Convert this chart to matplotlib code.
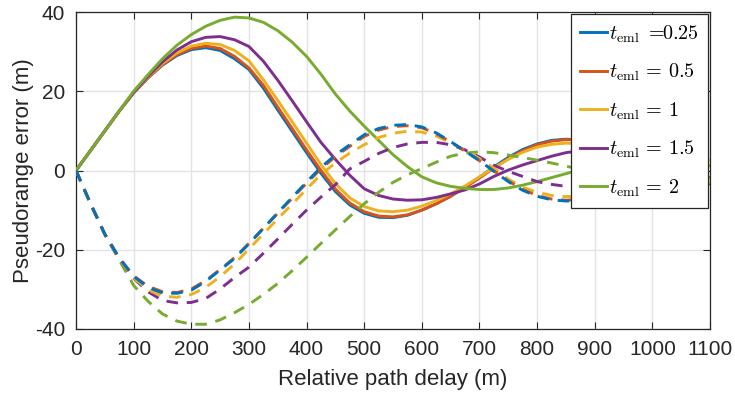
import numpy as np
import matplotlib
matplotlib.use("Agg")
import matplotlib.pyplot as plt

plt.rcParams['font.family'] = ['Liberation Sans', 'DejaVu Sans']
plt.rcParams['mathtext.fontset'] = 'cm'
plt.rcParams['axes.unicode_minus'] = False

# Relative path delay (m)
delay = list(range(0, 1101, 25))

# Positive (solid) error envelopes
pos_025 = [0, 5.0, 10.0, 15.0, 19.6, 23.4, 26.6, 29.0, 30.5, 31.0, 30.3, 28.2, 25.5, 20.8, 15.3, 9.9, 4.5, -0.7,
           -5.3, -8.7, -10.8, -11.8, -11.9, -11.3, -10.0, -8.4, -6.5, -4.2, -1.7, 0.9, 3.3, 5.3, 6.7, 7.6, 7.9, 7.7,
           7.0, 5.8, 4.3, 2.6, 0.9, -0.7, -2.0, -2.9, -3.4]
pos_05 = [0, 5.0, 10.0, 15.0, 19.6, 23.4, 26.7, 29.2, 30.8, 31.4, 30.8, 28.8, 25.9, 21.5, 16.0, 10.6, 5.2, 0.0,
          -4.7, -8.2, -10.4, -11.5, -11.7, -11.2, -10.0, -8.4, -6.5, -4.3, -1.9, 0.6, 3.0, 5.0, 6.5, 7.4, 7.8, 7.7,
          7.0, 5.9, 4.5, 2.8, 1.1, -0.5, -1.8, -2.7, -3.2]
pos_1 = [0, 5.0, 10.0, 15.0, 19.7, 23.6, 27.0, 29.7, 31.4, 32.1, 31.8, 30.3, 27.7, 22.9, 17.7, 12.3, 6.9, 1.5,
         -3.3, -6.9, -9.1, -10.2, -10.4, -10.0, -9.0, -7.6, -5.9, -3.9, -1.6, 0.7, 2.8, 4.6, 5.9, 6.6, 6.9, 6.8,
         6.3, 5.4, 4.1, 2.6, 1.0, -0.4, -1.6, -2.4, -2.9]
pos_15 = [0, 5.0, 10.0, 15.0, 19.7, 23.8, 27.4, 30.4, 32.5, 33.6, 33.8, 33.0, 31.3, 27.6, 22.8, 17.6, 12.3, 7.1,
          2.8, -1.2, -4.6, -6.3, -7.2, -7.5, -7.4, -6.8, -5.9, -4.9, -3.4, -1.5, 0.1, 1.4, 2.5, 3.6, 4.5, 5.0,
          5.2, 5.0, 4.4, 3.5, 2.4, 1.2, 0.0, -1.0, -1.8]
pos_2 = [0, 5.0, 10.0, 15.0, 20.0, 24.2, 28.2, 31.6, 34.3, 36.4, 37.9, 38.7, 38.5, 37.4, 35.3, 32.4, 28.8, 24.3,
         19.3, 15.0, 11.2, 7.6, 4.0, 1.0, -1.6, -3.1, -4.0, -4.5, -4.8, -4.8, -4.4, -3.7, -2.8, -1.8, -0.8, 0.2,
         1.1, 1.9, 2.5, 2.9, 3.0, 2.9, 2.5, 1.9, 1.2]

# Negative (dashed) error envelopes
neg_025 = [0, -8.3, -16.1, -22.1, -26.7, -29.5, -30.9, -31.0, -30.2, -28.0, -25.1, -22.2, -18.5, -14.6, -10.7, -6.8,
           -2.9, 0.8, 3.9, 6.5, 9.0, 10.6, 11.4, 11.6, 11.0, 9.5, 7.3, 4.9, 2.5, -0.2, -2.8, -5.0, -6.5, -7.4, -7.7,
           -7.5, -6.8, -5.7, -4.3, -2.8, -1.2, 0.3, 1.6, 2.6, 3.2]
neg_05 = [0, -8.3, -16.0, -22.0, -26.6, -29.2, -30.6, -30.8, -29.9, -27.8, -25.0, -22.0, -18.4, -14.6, -10.8, -7.0,
          -3.2, 0.4, 3.5, 6.1, 8.6, 10.2, 11.1, 11.3, 10.8, 9.3, 7.2, 4.9, 2.5, -0.1, -2.6, -4.8, -6.3, -7.2, -7.5,
          -7.3, -6.7, -5.6, -4.2, -2.7, -1.2, 0.3, 1.5, 2.5, 3.1]
neg_1 = [0, -8.3, -16.1, -22.3, -27.1, -30.1, -31.7, -32.0, -31.3, -29.5, -26.8, -23.6, -19.8, -16.0, -12.2, -8.5,
         -4.7, -1.0, 1.9, 4.4, 6.5, 8.3, 9.4, 9.9, 9.7, 8.7, 7.0, 5.1, 3.0, 0.6, -2.2, -4.2, -5.5, -6.3, -6.6,
         -6.5, -6.0, -5.1, -3.9, -2.6, -1.2, 0.1, 1.2, 2.1, 2.6]
neg_15 = [0, -8.3, -16.1, -22.3, -27.2, -30.6, -32.8, -33.4, -33.3, -32.3, -29.9, -27.0, -24.4, -20.9, -17.3, -13.6,
          -10.0, -6.7, -3.6, 0.4, 2.3, 4.3, 5.8, 6.7, 7.1, 7.1, 6.5, 5.2, 3.4, 1.3, -0.2, -1.5, -2.8, -3.5, -4.0,
          -4.3, -4.3, -4.0, -3.4, -2.6, -1.7, -0.7, 0.2, 1.0, 1.6]
neg_2 = [0, -8.3, -16.1, -22.6, -29.0, -33.0, -36.2, -38.0, -38.8, -38.8, -37.7, -35.9, -33.8, -31.3, -28.5, -25.3,
         -21.9, -18.4, -15.0, -11.6, -8.4, -5.5, -3.0, -1.1, 0.5, 2.1, 3.6, 4.4, 4.7, 4.5, 3.9, 3.3, 2.6, 1.9, 1.1,
         0.3, -0.5, -1.2, -1.8, -2.3, -2.6, -2.7, -2.6, -2.3, -1.9]

labels = [r'$t_{\mathrm{eml}}\ =\!\!0.25$', r'$t_{\mathrm{eml}}\,=\,0.5$', r'$t_{\mathrm{eml}}\,=\,1$',
          r'$t_{\mathrm{eml}}\,=\,1.5$', r'$t_{\mathrm{eml}}\,=\,2$']
colors = ['#0072BD', '#D95319', '#EDB120', '#7E2F8E', '#77AC30']
pos_series = [pos_025, pos_05, pos_1, pos_15, pos_2]
neg_series = [neg_025, neg_05, neg_1, neg_15, neg_2]

fig = plt.figure(figsize=(7.35, 3.95), dpi=100)
ax = fig.add_axes([76/735, 1-329/395, (710-76)/735, (329-12)/395])

handles = []
for i, (p, n, c, lab) in enumerate(zip(pos_series, neg_series, colors, labels)):
    h, = ax.plot(delay, p, color=c, lw=2.1, label=lab, zorder=3 + i,
                 solid_joinstyle='round')
    ax.plot(delay, n, color=c, lw=2.1, linestyle=(0, (4.0, 3.0)), zorder=13 - i,
            dash_joinstyle='round')
    handles.append(h)

ax.set_xlim(0, 1100)
ax.set_ylim(-40, 40)
ax.set_xticks(range(0, 1101, 100))
ax.set_yticks([-40, -20, 0, 20, 40])
ax.grid(True, color='#e3e3e3', lw=1.0, zorder=0)
ax.set_axisbelow(True)
ax.tick_params(direction='in', top=True, right=True, length=5, width=0.8,
               labelsize=15, colors='#262626', pad=8)
for s in ax.spines.values():
    s.set_color('#262626')
    s.set_linewidth(0.9)

ax.set_xlabel('Relative path delay (m)', fontsize=16, color='#262626', labelpad=7)
ax.set_ylabel('Pseudorange error (m)', fontsize=16, color='#262626', labelpad=0.5)

leg = ax.legend(handles=handles, loc='upper right', fontsize=14.5, frameon=True, fancybox=False,
                framealpha=1, edgecolor='#262626', handlelength=1.3, handletextpad=0.12,
                labelspacing=0.85, borderpad=0.45, borderaxespad=0.1)
leg.get_frame().set_linewidth(0.9)
leg.set_zorder(20)

fig.savefig('out.png', dpi=100)
